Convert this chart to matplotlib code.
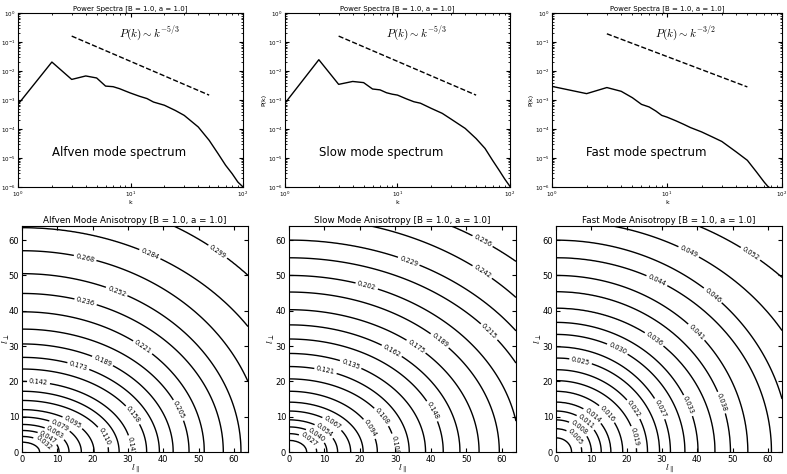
import numpy as np
import matplotlib
matplotlib.use("Agg")
import matplotlib.pyplot as plt

# ---- power spectra ----
k_alf = [1, 2, 3, 4, 5, 6, 7, 8, 9, 10, 12, 14, 16, 20, 25, 30, 40, 50, 60, 70, 80, 90, 100]
logp_alf = [-3.15, -1.69, -2.29, -2.17, -2.24, -2.52, -2.54, -2.61, -2.69, -2.76, -2.87, -2.95,
            -3.07, -3.18, -3.36, -3.53, -3.93, -4.39, -4.85, -5.25, -5.54, -5.83, -6.0]
k_slow = [1, 2, 3, 4, 5, 6, 7, 8, 9, 10, 12, 14, 16, 20, 25, 30, 40, 50, 60, 70, 80, 90, 100]
logp_slow = [-3.11, -1.61, -2.46, -2.36, -2.40, -2.62, -2.65, -2.75, -2.80, -2.83, -2.96, -3.06,
             -3.11, -3.29, -3.46, -3.66, -3.98, -4.33, -4.67, -5.08, -5.42, -5.73, -5.98]
k_fast = [1, 2, 3, 4, 5, 6, 7, 8, 9, 10, 12, 14, 16, 20, 25, 30, 40, 50, 60, 70, 75, 80]
logp_fast = [-2.53, -2.78, -2.57, -2.70, -2.92, -3.15, -3.24, -3.38, -3.53, -3.59, -3.72, -3.84,
             -3.95, -4.10, -4.28, -4.43, -4.79, -5.08, -5.48, -5.83, -5.97, -6.06]

ref_k = np.array([3.0, 50.0])
slope_alf = -5.0 / 3
slope_slow = -5.0 / 3
slope_fast = -3.0 / 2

# ---- anisotropy contours: levels and where each one meets the axes ----
lev_alf = [0.016, 0.032, 0.047, 0.063, 0.079, 0.095, 0.110, 0.126, 0.142, 0.158,
           0.173, 0.189, 0.205, 0.221, 0.236, 0.252, 0.268, 0.284, 0.299]
par_alf = [5.0, 7.7, 10.5, 13.3, 16.8, 20.4, 24.5, 27.5, 31.0, 35.3,
           38.9, 42.8, 47.3, 51.6, 57.0, 62.0, 68.3, 77.2, 87.3]
perp_alf = [2.8, 4.4, 6.1, 7.8, 9.9, 12.0, 14.6, 17.2, 20.0, 23.5,
            26.8, 30.6, 34.8, 39.7, 44.9, 50.5, 57.0, 63.5, 73.5]

lev_slow = [0.013, 0.027, 0.040, 0.054, 0.067, 0.081, 0.094, 0.108, 0.121, 0.135,
            0.148, 0.162, 0.175, 0.189, 0.202, 0.215, 0.229, 0.242, 0.256]
par_slow = [5.0, 7.8, 10.7, 13.7, 17.4, 20.9, 24.9, 30.0, 33.9, 38.5,
            43.5, 48.2, 53.6, 59.3, 65.0, 72.0, 78.0, 85.0, 95.0]
perp_slow = [3.3, 5.2, 7.1, 9.1, 11.6, 14.1, 17.2, 20.7, 24.2, 27.9,
             32.0, 36.0, 40.3, 45.3, 50.0, 55.0, 60.0, 66.5, 73.0]

lev_fast = [0.003, 0.005, 0.008, 0.011, 0.014, 0.016, 0.019, 0.022, 0.025, 0.027,
            0.030, 0.033, 0.036, 0.038, 0.041, 0.044, 0.046, 0.049, 0.052]
par_fast = [4.4, 7.3, 10.0, 12.8, 15.5, 18.9, 22.8, 25.9, 29.3, 32.4,
            36.5, 40.2, 45.0, 49.4, 54.3, 61.0, 66.1, 75.2, 88.1]
perp_fast = [4.0, 6.6, 9.1, 11.6, 14.1, 17.2, 20.2, 23.3, 26.6, 29.8,
             33.3, 36.7, 40.7, 45.4, 50.0, 55.0, 60.0, 65.5, 72.0]

plt.rcParams['xtick.direction'] = 'in'
plt.rcParams['ytick.direction'] = 'in'
plt.rcParams['xtick.top'] = True
plt.rcParams['ytick.right'] = True
plt.rcParams['axes.linewidth'] = 0.8


def field_from_rings(levels, a, b, X, Y):
    # value of the field on the grid, so that level i sits on the ellipse (a_i, b_i)
    levels = np.asarray(levels)
    a = np.asarray(a)[:, None, None]
    b = np.asarray(b)[:, None, None]
    R = np.sqrt((X / a) ** 2 + (Y / b) ** 2)
    G = 1.0 / np.maximum(R, 1e-9)
    n = len(levels)
    k = (G < 1).sum(axis=0)
    Z = np.empty_like(X)
    inner = k == 0
    Z[inner] = levels[0] * R[0][inner]
    outer = k == n
    Z[outer] = levels[-1] + (R[-1][outer] - 1) * 0.05
    mid = ~inner & ~outer
    km = k[mid]
    g0 = G[km - 1, mid]
    g1 = G[km, mid]
    t = (1 - g0) / (g1 - g0)
    Z[mid] = levels[km - 1] + t * (levels[km] - levels[km - 1])
    return Z


def spectrum(ax, k, logp, slope, name, ylabel=True):
    ax.loglog(k, 10.0 ** np.array(logp), color='k', lw=1.0)
    ax.loglog(ref_k, ref_k ** slope, 'k--', lw=1.0)
    ax.set_xlim(1, 100)
    ax.set_ylim(1e-6, 1)
    ax.set_title('Power Spectra [B = 1.0, a = 1.0]', fontsize=5, pad=2)
    ax.set_xlabel('k', fontsize=4.5, labelpad=1)
    if ylabel:
        ax.set_ylabel('P(k)', fontsize=4.5, labelpad=1)
    ax.tick_params(labelsize=4, length=3, pad=2)
    ax.tick_params(which='minor', length=1.5)
    sl = '-5/3' if slope < -1.6 else '-3/2'
    ax.text(0.45, 0.86, r'$P(k) \sim k^{%s}$' % sl, transform=ax.transAxes,
            fontsize=8, math_fontfamily='cm')
    ax.text(0.15, 0.18, name, transform=ax.transAxes, fontsize=8.5)


def anisotropy(ax, levels, a, b, title, spots, ypad=-1):
    l = np.linspace(0, 64, 321)
    X, Y = np.meshgrid(l, l)
    Z = field_from_rings(levels, a, b, X, Y)
    cs = ax.contour(X, Y, Z, levels=levels, colors='k', linewidths=1.0)
    ax.clabel(cs, fmt='%.3f', fontsize=4.8, inline=True, manual=spots, inline_spacing=2)
    ax.set_xlim(0, 64)
    ax.set_ylim(0, 64)
    ax.set_xticks(range(0, 61, 10))
    ax.set_yticks(range(0, 61, 10))
    ax.tick_params(labelsize=6, length=3, pad=2)
    ax.set_title(title, fontsize=6.3, pad=2)
    ax.set_xlabel(r'$l_{\parallel}$', fontsize=7, labelpad=-1, math_fontfamily='cm')
    ax.set_ylabel(r'$l_{\perp}$', fontsize=7, labelpad=ypad, math_fontfamily='cm')


fig = plt.figure(figsize=(7.87, 4.74), dpi=100)
fig.patch.set_facecolor('white')

ax1 = fig.add_axes([0.0229, 0.6055, 0.2859, 0.367])
ax2 = fig.add_axes([0.3621, 0.6055, 0.2859, 0.367])
ax3 = fig.add_axes([0.7014, 0.6055, 0.2922, 0.367])
spectrum(ax1, k_alf, logp_alf, slope_alf, 'Alfven mode spectrum', ylabel=False)
spectrum(ax2, k_slow, logp_slow, slope_slow, 'Slow mode spectrum')
spectrum(ax3, k_fast, logp_fast, slope_fast, 'Fast mode spectrum')

ax4 = fig.add_axes([0.02795, 0.0464, 0.2872, 0.4768])
ax5 = fig.add_axes([0.3672, 0.0464, 0.2884, 0.4768])
ax6 = fig.add_axes([0.7065, 0.0464, 0.2872, 0.4768])

anisotropy(ax4, lev_alf, par_alf, perp_alf, 'Alfven Mode Anisotropy [B = 1.0, a = 1.0]',
           [(6.1, 2.6), (7.8, 4.9), (10, 6.6), (11.2, 8.5), (15, 9.5), (23.9, 4.7), (29.5, 1.4),
            (4.7, 20), (31.8, 10.8), (15.9, 24.2), (23, 26.2), (45.3, 12.3), (34.7, 30.4),
            (18, 42.5), (27.1, 46.2), (18, 55.5), (37, 57.5), (55.1, 56.1)], ypad=-2.5)
anisotropy(ax5, lev_slow, par_slow, perp_slow, 'Slow Mode Anisotropy [B = 1.0, a = 1.0]',
           [(5.6, 3.3), (7.9, 5.2), (10.7, 7.1), (12.6, 8.7), (22, 6.1), (28.5, 1.9), (26.6, 10.3),
            (10.3, 23), (17.3, 24.6), (41.6, 12.2), (29, 28.7), (36, 30.1), (42.5, 31.5),
            (22, 47.3), (56.5, 34.1), (34.1, 55), (54.7, 51.3), (54.7, 60)])
anisotropy(ax6, lev_fast, par_fast, perp_fast, 'Fast Mode Anisotropy [B = 1.0, a = 1.0]',
           [(5.2, 3.8), (6.5, 6.8), (8.5, 8.5), (10.5, 10.5), (15, 11.3), (22, 4.2), (22, 12.1),
            (7, 25.9), (29.5, 12.3), (17.3, 29), (37.5, 13.2), (28.1, 32.4), (46.9, 14),
            (39.8, 34), (28.6, 48.6), (44.5, 44.5), (38, 57.5), (54.8, 55.8)])

fig.savefig('out.png', dpi=100, facecolor='white')
